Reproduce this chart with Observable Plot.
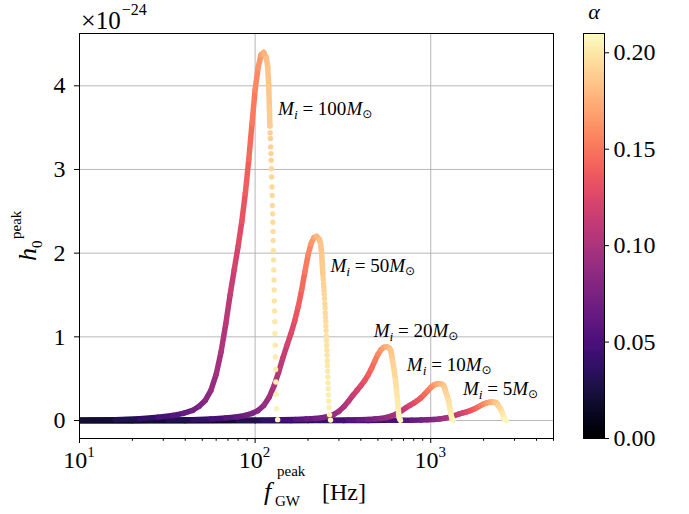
<!DOCTYPE html>
<html><head><meta charset="utf-8">
<script src="https://cdn.jsdelivr.net/npm/d3@7"></script>
<script src="https://cdn.jsdelivr.net/npm/@observablehq/plot@0.6"></script>
<style>
body{margin:0;background:#fff;}
#wrap{position:relative;width:689px;height:514px;overflow:hidden;background:#fff;}
#wrap svg{position:absolute;top:0;}
</style></head><body><div id="wrap"></div>
<script>
// ---- data: [f_GW (Hz), h0 (x1e-24), alpha] ----
const m100 = [[10,0.003,0.015],[16,0.010,0.025],[22,0.020,0.034],[28,0.038,0.043],[34,0.060,0.053],[39,0.085,0.060],[44,0.12,0.068],[48,0.17,0.074],[52,0.24,0.080],[56,0.36,0.087],[60,0.55,0.093],[64,0.82,0.099],[68,1.15,0.105],[72,1.50,0.111],[76,1.80,0.118],[80,2.08,0.124],[84,2.38,0.130],[88,2.72,0.136],[92,3.12,0.142],[96,3.55,0.149],[100,3.95,0.155],[104,4.22,0.161],[108,4.37,0.167],[112,4.40,0.173],[116,4.33,0.180],[118,4.22,0.183],[119.5,4.00,0.185],[120.6,3.74,0.187],[121.3,3.52,0.188]];
const tail100 = [[121.4,3.52,0.188],[121.8,3.44,0.189],[122.2,3.37,0.189],[122.6,3.27,0.190],[123.1,3.19,0.191],[123.4,3.11,0.191],[123.8,3.01,0.192],[124.2,2.91,0.192],[124.7,2.79,0.193],[125.1,2.69,0.194],[125.4,2.57,0.194],[125.9,2.47,0.195],[126.2,2.37,0.195],[126.5,2.26,0.196],[126.7,2.15,0.196],[127.1,2.03,0.197],[127.4,1.92,0.197],[127.7,1.80,0.198],[128.1,1.68,0.198],[128.4,1.56,0.199],[128.7,1.43,0.199],[129.1,1.31,0.200],[129.4,1.18,0.200],[129.7,1.04,0.201],[130.1,0.90,0.201],[130.4,0.76,0.202],[130.8,0.61,0.202],[131.3,0.46,0.203],[131.8,0.31,0.204],[132.7,0.14,0.205],[134.4,0.01,0.208]];
const m50 = [[10,0.001,0.008],[20,0.0015,0.015],[32,0.005,0.025],[44,0.010,0.034],[56,0.019,0.043],[68,0.030,0.053],[78,0.043,0.060],[88,0.060,0.068],[96,0.085,0.074],[104,0.12,0.080],[112,0.18,0.087],[120,0.275,0.093],[128,0.41,0.099],[136,0.575,0.105],[144,0.75,0.111],[152,0.90,0.118],[160,1.04,0.124],[168,1.19,0.130],[176,1.36,0.136],[184,1.56,0.142],[192,1.775,0.149],[200,1.975,0.155],[208,2.11,0.161],[216,2.185,0.167],[224,2.20,0.173],[232,2.165,0.180],[236,2.11,0.183],[239,2.00,0.185],[241.2,1.87,0.187],[242.6,1.76,0.188]];
const tail50 = [[242.8,1.76,0.188],[243.6,1.72,0.189],[244.4,1.685,0.189],[245.2,1.635,0.190],[246.2,1.595,0.191],[246.8,1.555,0.191],[247.6,1.505,0.192],[248.4,1.455,0.192],[249.4,1.395,0.193],[250.2,1.345,0.194],[250.8,1.285,0.194],[251.8,1.235,0.195],[252.4,1.185,0.195],[253.0,1.13,0.196],[253.4,1.075,0.196],[254.2,1.015,0.197],[254.8,0.96,0.197],[255.4,0.90,0.198],[256.2,0.84,0.198],[256.8,0.78,0.199],[257.4,0.715,0.199],[258.2,0.655,0.200],[258.8,0.59,0.200],[259.4,0.52,0.201],[260.2,0.45,0.201],[260.8,0.38,0.202],[261.6,0.305,0.202],[262.6,0.23,0.203],[263.6,0.155,0.204],[265.4,0.07,0.205],[268.8,0.005,0.208]];
const m20 = [[10,0.0002,0.003],[20,0.0004,0.006],[40,0.0008,0.012],[80,0.002,0.025],[110,0.004,0.034],[140,0.0076,0.043],[170,0.012,0.053],[195,0.017,0.060],[220,0.024,0.068],[240,0.034,0.074],[260,0.048,0.080],[280,0.072,0.087],[300,0.11,0.093],[320,0.164,0.099],[340,0.23,0.105],[360,0.30,0.111],[380,0.36,0.118],[400,0.416,0.124],[420,0.476,0.130],[440,0.544,0.136],[460,0.624,0.142],[480,0.71,0.149],[500,0.79,0.155],[520,0.844,0.161],[540,0.874,0.167],[560,0.88,0.173],[580,0.866,0.180],[590,0.844,0.183],[597.5,0.80,0.185],[603,0.748,0.187],[606.5,0.704,0.188],[619,0.602,0.192],[631,0.474,0.195],[638.5,0.36,0.198],[647,0.236,0.200],[654,0.122,0.202],[659,0.062,0.204],[663.5,0.028,0.205],[672,0.002,0.208]];
const m10 = [[10,0.0001,0.0015],[40,0.0004,0.006],[100,0.0008,0.015],[160,0.001,0.025],[220,0.002,0.034],[280,0.0038,0.043],[340,0.006,0.053],[390,0.0085,0.060],[440,0.012,0.068],[480,0.017,0.074],[520,0.024,0.080],[560,0.036,0.087],[600,0.055,0.093],[640,0.082,0.099],[680,0.115,0.105],[720,0.15,0.111],[760,0.18,0.118],[800,0.208,0.124],[840,0.238,0.130],[880,0.272,0.136],[920,0.312,0.142],[960,0.355,0.149],[1000,0.395,0.155],[1040,0.422,0.161],[1080,0.437,0.167],[1120,0.44,0.173],[1160,0.433,0.180],[1180,0.422,0.183],[1195,0.40,0.185],[1206,0.374,0.187],[1213,0.352,0.188],[1238,0.301,0.192],[1262,0.237,0.195],[1277,0.18,0.198],[1294,0.118,0.200],[1308,0.061,0.202],[1318,0.031,0.204],[1327,0.014,0.205],[1344,0.001,0.208]];
const m5 = [[10,0.00005,0.0008],[100,0.0003,0.008],[200,0.0005,0.015],[320,0.0005,0.025],[440,0.001,0.034],[560,0.0019,0.043],[680,0.003,0.053],[780,0.0043,0.060],[880,0.006,0.068],[960,0.0085,0.074],[1040,0.012,0.080],[1120,0.018,0.087],[1200,0.0275,0.093],[1280,0.041,0.099],[1360,0.0575,0.105],[1440,0.075,0.111],[1520,0.09,0.118],[1600,0.104,0.124],[1680,0.119,0.130],[1760,0.136,0.136],[1840,0.156,0.142],[1920,0.1775,0.149],[2000,0.1975,0.155],[2080,0.211,0.161],[2160,0.2185,0.167],[2240,0.22,0.173],[2320,0.2165,0.180],[2360,0.211,0.183],[2390,0.20,0.185],[2412,0.187,0.187],[2426,0.176,0.188],[2476,0.1505,0.192],[2524,0.1185,0.195],[2554,0.09,0.198],[2588,0.059,0.200],[2616,0.0305,0.202],[2636,0.0155,0.204],[2654,0.007,0.205],[2688,0.0005,0.208]];

// labels
const labelMass = ["100","50","20","10","5"];
const labelF = [136, 270, 476, 736, 1536];
const labelH = [3.64, 1.77, 0.995, 0.585, 0.30];

// ticks
const yTicks = [0,1,2,3,4];
const xMajor = [10,100,1000];
const xMajorExp = ["1","2","3"];
const xMinor = [20,30,40,50,60,70,80,90,200,300,400,500,600,700,800,900,2000,3000,4000,5000];
const cbTicks = [0,0.05,0.10,0.15,0.20];
const alphaMax = 0.21;

const serif = "'Liberation Serif','Times New Roman',serif";
const color = {type:"linear", scheme:"magma", domain:[0, alphaMax]};

function segs(pts){
  return pts.slice(1).map((p,i)=>({x1:pts[i][0], y1:pts[i][1], x2:p[0], y2:p[1], a:(pts[i][2]+p[2])/2}));
}
const lineMark = pts => Plot.link(segs(pts), {x1:"x1", y1:"y1", x2:"x2", y2:"y2", stroke:"a", strokeWidth:5.5, strokeLinecap:"round", clip:true});
const dotMark = pts => Plot.dot(pts, {x:d=>d[0], y:d=>d[1], fill:d=>d[2], r:2.7, clip:true});
const gridStyle = {stroke:"#b0b0b0", strokeOpacity:1, strokeWidth:0.9};

const chart = Plot.plot({
  width:689, height:514, marginLeft:79, marginRight:136, marginTop:33, marginBottom:76,
  style:{fontFamily:serif, fontSize:"23.5px", color:"#000", background:"transparent"},
  x:{type:"log", domain:[10,5000]},
  y:{domain:[-0.215,4.625]},
  color,
  marks:[
    Plot.gridX([100,1000], gridStyle),
    Plot.gridY(yTicks, gridStyle),
    lineMark(m5), lineMark(m10), lineMark(m20),
    lineMark(m50), dotMark(tail50),
    lineMark(m100), dotMark(tail100),
    Plot.frame({stroke:"#000", strokeWidth:1}),
    Plot.axisY(yTicks, {tickSize:5, tickPadding:9, fontSize:24, tickFormat:d3.format("d"), label:null}),
    Plot.axisX(xMinor, {tickSize:2.8, tickFormat:()=>"", label:null}),
    Plot.axisX(xMajor, {tickSize:5, tickFormat:()=>"", label:null})
  ]
});
chart.style.left = "0px";
document.getElementById("wrap").appendChild(chart);

function scaleFn(s, log){
  if (s.apply) return v => s.apply(v);
  const d = (log ? d3.scaleLog() : d3.scaleLinear()).domain(s.domain).range(s.range);
  return v => d(v);
}
const X = scaleFn(chart.scale("x"), true);
const Y = scaleFn(chart.scale("y"), false);

function addText(parent, x, y, parts, attrs){
  const t = parent.append("text").attr("x", x).attr("y", y)
    .attr("font-family", serif).attr("fill", "#000").attr("font-size", 24)
    .attr("text-anchor", "start");
  for (const [k,v] of Object.entries(attrs||{})) t.attr(k, v);
  for (const p of parts){
    const s = t.append("tspan").text(p.t);
    if (p.size) s.attr("font-size", p.size);
    if (p.dy) s.attr("dy", p.dy);
    if (p.dx) s.attr("dx", p.dx);
    if (p.it) s.attr("font-style", "italic");
    if (p.ff) s.attr("font-family", p.ff);
  }
  return t;
}

const svg = d3.select(chart);
// x tick labels 10^k
xMajor.forEach((v,i)=>{
  addText(svg, X(v), 468, [{t:"10"},{t:xMajorExp[i], size:15, dy:-11}], {"text-anchor":"middle"});
});
// offset text
addText(svg, 81, 29, [{t:"\u00d7", size:26},{t:"10", size:25},{t:"\u221224", size:16, dy:-14, dx:1}]);
// mass labels
labelMass.forEach((m,i)=>{
  addText(svg, X(labelF[i]), Y(labelH[i]), [
    {t:"M", it:1},
    {t:"i", it:1, size:13.5, dy:4},
    {t:"\u00a0=\u00a0"+m, dy:-4},
    {t:"M", it:1},
    {t:"\u2299", size:12, dy:3, ff:"'DejaVu Sans',sans-serif"}
  ], {"font-size":19});
});
// x axis label
addText(svg, 264, 500, [{t:"f", it:1}], {"font-size":26});
addText(svg, 275, 506, [{t:"GW"}], {"font-size":15});
addText(svg, 277, 476, [{t:"peak"}], {"font-size":15});
addText(svg, 322, 500, [{t:"[Hz]"}]);
// y axis label (rotated)
const g = svg.append("g").attr("transform", "translate(36,261) rotate(-90)");
addText(g, 0, 0, [{t:"h", it:1}], {"font-size":26});
addText(g, 13, 6, [{t:"0"}], {"font-size":15});
addText(g, 22, -15, [{t:"peak"}], {"font-size":15});

// ---- colorbar ----
const cbN = 240;
const cbSteps = d3.range(cbN).map(i => i * alphaMax / cbN);
const cb = Plot.plot({
  width:129, height:514, marginLeft:23, marginRight:85, marginTop:33, marginBottom:76,
  style:{fontFamily:serif, fontSize:"24px", color:"#000", background:"transparent"},
  x:{domain:[0,1], axis:null},
  y:{domain:[0, alphaMax], axis:null},
  color,
  marks:[
    Plot.rect(cbSteps, {x1:()=>0, x2:()=>1, y1:d=>d, y2:d=>Math.min(alphaMax, d + 1.8*alphaMax/cbN), fill:d=>d + 0.5*alphaMax/cbN}),
    Plot.frame({stroke:"#000", strokeWidth:1}),
    Plot.axisY(cbTicks, {anchor:"right", tickSize:4, tickPadding:5, tickFormat:d3.format(".2f"), fontSize:24, label:null})
  ]
});
cb.style.left = "560px";
document.getElementById("wrap").appendChild(cb);
addText(d3.select(cb), 34, 19, [{t:"\u03b1", it:1}], {"text-anchor":"middle", "font-size":22});
</script>
</body></html>
